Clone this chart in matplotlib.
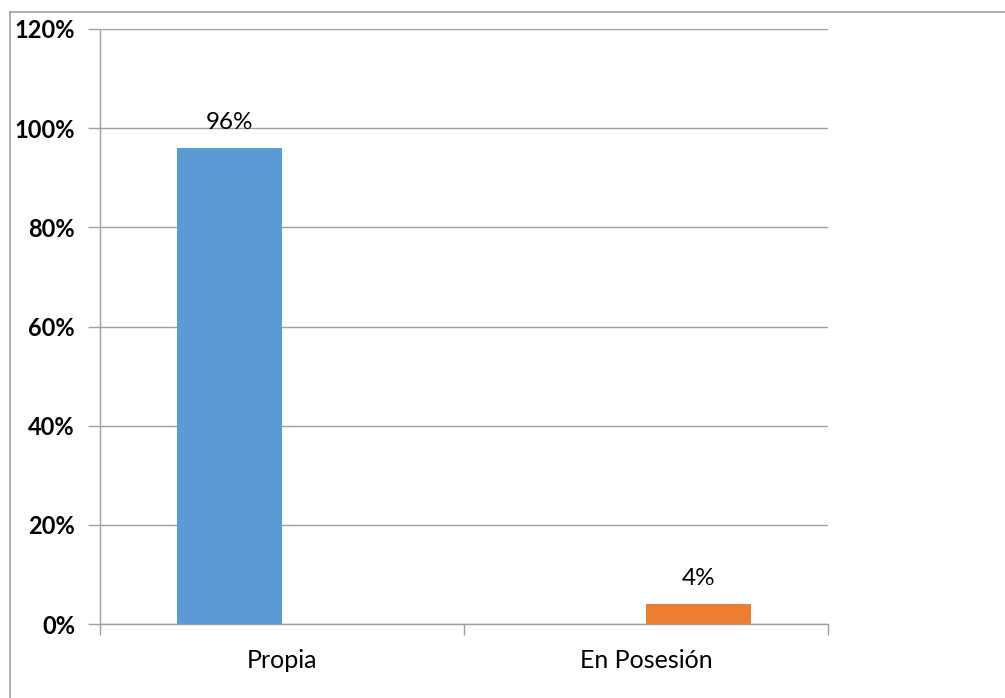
import matplotlib.pyplot as plt
from matplotlib.lines import Line2D
from matplotlib.ticker import FixedLocator, NullFormatter

plt.rcParams['font.family'] = ['Lato', 'DejaVu Sans']

categories = ['Propia', 'En Posesión']
values = [96, 4]
labels = ['96%', '4%']
colors = ['#5B9BD5', '#ED7D31']
yticks = [0, 20, 40, 60, 80, 100, 120]

fig = plt.figure(figsize=(10.05, 6.98), dpi=100)
ax = fig.add_axes([100 / 1005, 74 / 698, 728 / 1005, 595 / 698])

# each category spans one unit; bars sit left/right of centre like a two-series cluster
bar_w = 105 / 364
offsets = [-bar_w / 2, bar_w / 2]
for i, (v, lab, c) in enumerate(zip(values, labels, colors)):
    x = i + 0.5 + offsets[i]
    ax.bar(x, v, width=bar_w, color=c, zorder=3)
    ax.text(x, v + 3.9, lab, ha='center', va='baseline', fontsize=17.5, color='#000000')

ax.set_xlim(0, len(categories))
ax.set_ylim(0, 120)
ax.set_yticks(yticks)
ax.set_yticklabels([f'{t}%' for t in yticks], fontsize=17, fontweight='bold')
ax.yaxis.grid(True, color='#A0A0A0', linewidth=1, zorder=0)

ax.xaxis.set_major_locator(FixedLocator(range(len(categories) + 1)))
ax.xaxis.set_major_formatter(NullFormatter())
ax.set_xticks([i + 0.5 for i in range(len(categories))], minor=True)
ax.set_xticklabels(categories, minor=True, fontsize=18)
ax.tick_params(axis='x', which='minor', length=0, pad=18)
ax.tick_params(axis='x', which='major', length=8, color='#A0A0A0', width=1)
ax.tick_params(axis='y', length=9, color='#A0A0A0', width=1, pad=9)

for s in ['top', 'right']:
    ax.spines[s].set_visible(False)
for s in ['left', 'bottom']:
    ax.spines[s].set_color('#A0A0A0')
    ax.spines[s].set_linewidth(1)

# chart area border, only top and left edges fall inside the image
fig.lines.append(Line2D([10 / 1005, 1], [1 - 12 / 698, 1 - 12 / 698],
                        transform=fig.transFigure, color='#A0A0A0', linewidth=1.2))
fig.lines.append(Line2D([10 / 1005, 10 / 1005], [0, 1 - 12 / 698],
                        transform=fig.transFigure, color='#A0A0A0', linewidth=1.2))

fig.savefig('out.png', dpi=100)
